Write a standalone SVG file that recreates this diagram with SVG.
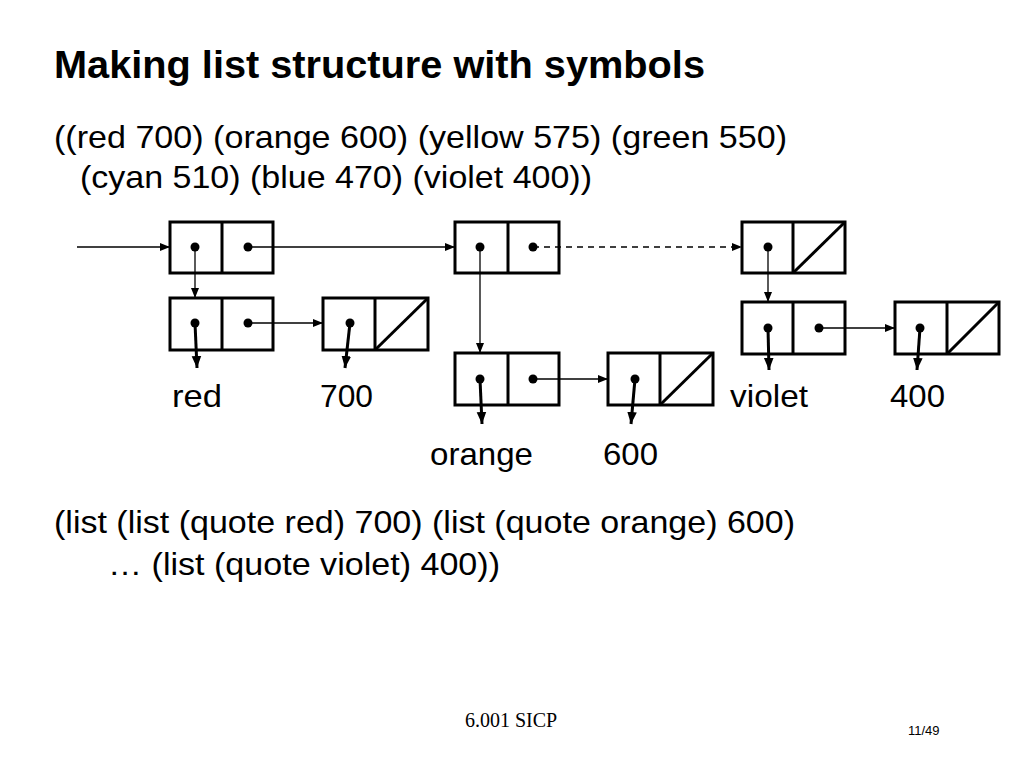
<svg xmlns="http://www.w3.org/2000/svg" width="1024" height="768" viewBox="0 0 1024 768">
<defs>
<style>
.t{font-family:"Liberation Sans",Arial,sans-serif;fill:#000}
.box{fill:none;stroke:#000;stroke-width:3}
.ln{stroke:#000;stroke-width:1.3;fill:none}
.car{stroke:#000;stroke-width:3;fill:none}
.dot{fill:#000}
</style>
<marker id="ah" viewBox="0 0 10 10" refX="10" refY="5" markerWidth="10" markerHeight="10" markerUnits="userSpaceOnUse" orient="auto">
<path d="M0,1 L10,5 L0,9 Z" fill="#000"/>
</marker>
<marker id="ah2" viewBox="0 0 10 10" refX="10" refY="5" markerWidth="4" markerHeight="4" orient="auto">
<path d="M0,1 L10,5 L0,9 Z" fill="#000"/>
</marker>
</defs>
<rect width="1024" height="768" fill="#fff"/>
<text class="t" x="54" y="78" font-size="39" font-weight="bold" textLength="651" lengthAdjust="spacingAndGlyphs">Making list structure with symbols</text>
<text class="t" x="54" y="148" font-size="32" textLength="733" lengthAdjust="spacingAndGlyphs">((red 700) (orange 600) (yellow 575) (green 550)</text>
<text class="t" x="80" y="188" font-size="32" textLength="512" lengthAdjust="spacingAndGlyphs">(cyan 510) (blue 470) (violet 400))</text>

<g id="connectors">
<line class="ln" x1="77" y1="247" x2="170" y2="247" marker-end="url(#ah)"/>
<line class="ln" x1="248" y1="247" x2="455" y2="247" marker-end="url(#ah)"/>
<line class="ln" x1="533" y1="247" x2="742" y2="247" stroke-dasharray="6,5" marker-end="url(#ah)"/>
<line class="ln" x1="195" y1="247" x2="195" y2="298" marker-end="url(#ah)"/>
<line class="ln" x1="480" y1="247" x2="480" y2="353" marker-end="url(#ah)"/>
<line class="ln" x1="768" y1="247" x2="768" y2="302" marker-end="url(#ah)"/>
<line class="ln" x1="248" y1="323" x2="323" y2="323" marker-end="url(#ah)"/>
<line class="ln" x1="533" y1="379" x2="608" y2="379" marker-end="url(#ah)"/>
<line class="ln" x1="819" y1="328" x2="895" y2="328" marker-end="url(#ah)"/>
<line class="car" x1="195" y1="323" x2="197" y2="368" marker-end="url(#ah2)"/>
<line class="car" x1="350" y1="323" x2="345" y2="368" marker-end="url(#ah2)"/>
<line class="car" x1="480" y1="379" x2="482" y2="424" marker-end="url(#ah2)"/>
<line class="car" x1="635" y1="379" x2="631" y2="424" marker-end="url(#ah2)"/>
<line class="car" x1="768" y1="328" x2="769" y2="370" marker-end="url(#ah2)"/>
<line class="car" x1="920" y1="328" x2="917" y2="370" marker-end="url(#ah2)"/>
</g>

<g id="pair1">
<rect class="box" x="170" y="222" width="103" height="51"/>
<line class="box" x1="222" y1="222" x2="222" y2="273"/>
<circle class="dot" cx="195" cy="247" r="4.5"/>
<circle class="dot" cx="248" cy="247" r="4.5"/>
</g>
<g id="pair2">
<rect class="box" x="455" y="222" width="104" height="51"/>
<line class="box" x1="508" y1="222" x2="508" y2="273"/>
<circle class="dot" cx="480" cy="247" r="4.5"/>
<circle class="dot" cx="533" cy="247" r="4.5"/>
</g>
<g id="pair3">
<rect class="box" x="742" y="222" width="103" height="51"/>
<line class="box" x1="793" y1="222" x2="793" y2="273"/>
<line class="box" x1="793" y1="273" x2="845" y2="222"/>
<circle class="dot" cx="768" cy="247" r="4.5"/>
</g>
<g id="red-pair">
<rect class="box" x="170" y="298" width="103" height="52"/>
<line class="box" x1="222" y1="298" x2="222" y2="350"/>
<circle class="dot" cx="195" cy="323" r="4.5"/>
<circle class="dot" cx="248" cy="323" r="4.5"/>
</g>
<g id="700-pair">
<rect class="box" x="323" y="298" width="105" height="52"/>
<line class="box" x1="375" y1="298" x2="375" y2="350"/>
<line class="box" x1="375" y1="350" x2="428" y2="298"/>
<circle class="dot" cx="350" cy="323" r="4.5"/>
</g>
<g id="orange-pair">
<rect class="box" x="455" y="353" width="104" height="52"/>
<line class="box" x1="508" y1="353" x2="508" y2="405"/>
<circle class="dot" cx="480" cy="379" r="4.5"/>
<circle class="dot" cx="533" cy="379" r="4.5"/>
</g>
<g id="600-pair">
<rect class="box" x="608" y="353" width="105" height="52"/>
<line class="box" x1="660" y1="353" x2="660" y2="405"/>
<line class="box" x1="660" y1="405" x2="713" y2="353"/>
<circle class="dot" cx="635" cy="379" r="4.5"/>
</g>
<g id="violet-pair">
<rect class="box" x="742" y="302" width="103" height="52"/>
<line class="box" x1="793" y1="302" x2="793" y2="354"/>
<circle class="dot" cx="768" cy="328" r="4.5"/>
<circle class="dot" cx="819" cy="328" r="4.5"/>
</g>
<g id="400-pair">
<rect class="box" x="895" y="302" width="104" height="52"/>
<line class="box" x1="947" y1="302" x2="947" y2="354"/>
<line class="box" x1="947" y1="354" x2="999" y2="302"/>
<circle class="dot" cx="920" cy="328" r="4.5"/>
</g>

<g id="labels" font-size="32">
<text class="t" x="172" y="407" textLength="50" lengthAdjust="spacingAndGlyphs">red</text>
<text class="t" x="320" y="407" textLength="53" lengthAdjust="spacingAndGlyphs">700</text>
<text class="t" x="430" y="465" textLength="103" lengthAdjust="spacingAndGlyphs">orange</text>
<text class="t" x="603" y="465" textLength="55" lengthAdjust="spacingAndGlyphs">600</text>
<text class="t" x="730" y="407" textLength="78" lengthAdjust="spacingAndGlyphs">violet</text>
<text class="t" x="890" y="407" textLength="55" lengthAdjust="spacingAndGlyphs">400</text>
</g>

<text class="t" x="54" y="533" font-size="32" textLength="741" lengthAdjust="spacingAndGlyphs">(list (list (quote red) 700) (list (quote orange) 600)</text>
<text class="t" x="108" y="575" font-size="32" textLength="392" lengthAdjust="spacingAndGlyphs">… (list (quote violet) 400))</text>

<text x="465" y="727" font-family="'Liberation Serif','Times New Roman',serif" font-size="20">6.001 SICP</text>
<text class="t" x="908" y="735" font-size="13">11/49</text>
</svg>
